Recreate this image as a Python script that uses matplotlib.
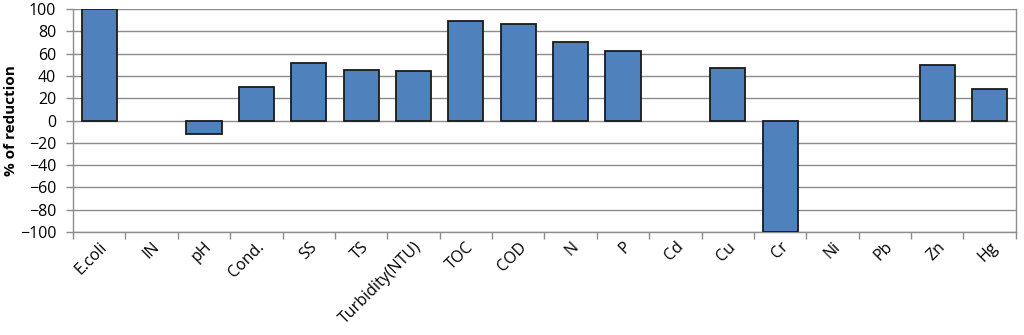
import matplotlib
matplotlib.use("Agg")
import matplotlib.pyplot as plt
import numpy as np

categories = ["E.coli", "IN", "pH", "Cond.", "SS", "TS", "Turbidity(NTU)", "TOC", "COD",
              "N", "P", "Cd", "Cu", "Cr", "Ni", "Pb", "Zn", "Hg"]
values = [100, np.nan, -12, 30, 52, 45, 44, 89.5, 86.5, 70.5, 62, np.nan, 47, -100,
          np.nan, np.nan, 50, 28.5]

plt.rcParams['font.family'] = ['Open Sans', 'DejaVu Sans']

fig = plt.figure(figsize=(10.24, 3.35), dpi=100)
ax = fig.add_axes([0.0713, 0.3075, 0.9207, 0.6655])

x = np.arange(len(categories))
ax.bar(x, values, width=0.67, color="#4F81BD", edgecolor="#1a1a1a", linewidth=1.3, zorder=3)

ax.set_xlim(-0.5, len(categories) - 0.5)
ax.set_ylim(-100, 100)
ax.set_yticks(np.arange(-100, 101, 20))
ax.yaxis.grid(True, color="#8c8c8c", linewidth=1.0, zorder=0)
ax.set_axisbelow(True)

ax.set_xticks(np.arange(-0.5, len(categories), 1.0))
ax.set_xticklabels([])
ax.set_xticks(x, minor=True)
ax.set_xticklabels(categories, minor=True, rotation=45, ha="right", rotation_mode="anchor",
                   fontsize=11.5)
ax.tick_params(axis="x", which="minor", length=0, pad=5)
ax.tick_params(axis="x", which="major", length=5, color="#8c8c8c", width=1.0)
ax.tick_params(axis="y", length=5, color="#8c8c8c", width=1.0, labelsize=11.5, pad=7)

for s in ["left", "bottom", "right"]:
    ax.spines[s].set_color("#8c8c8c")
    ax.spines[s].set_linewidth(1.0)
ax.spines["top"].set_visible(False)

ax.set_ylabel("% of reduction", fontsize=11, fontweight="bold", labelpad=1)

fig.savefig("out.png", dpi=100)
